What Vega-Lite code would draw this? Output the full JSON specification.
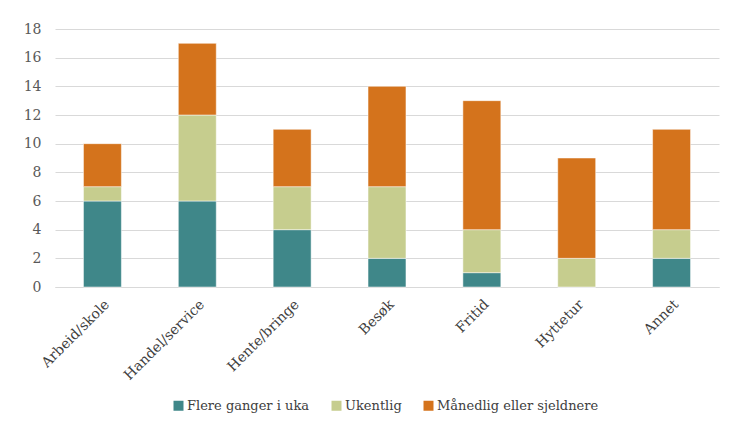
{
  "$schema": "https://vega.github.io/schema/vega-lite/v6.json",
  "width": 664,
  "height": 258,
  "autosize": {"type": "none"},
  "padding": {"left": 55, "top": 29, "right": 37, "bottom": 157},
  "background": "white",
  "data": {"values": [
    {"kat": "Arbeid/skole", "serie": "Flere ganger i uka", "o": 1, "v": 6},
    {"kat": "Arbeid/skole", "serie": "Ukentlig", "o": 2, "v": 1},
    {"kat": "Arbeid/skole", "serie": "Månedlig eller sjeldnere", "o": 3, "v": 3},
    {"kat": "Handel/service", "serie": "Flere ganger i uka", "o": 1, "v": 6},
    {"kat": "Handel/service", "serie": "Ukentlig", "o": 2, "v": 6},
    {"kat": "Handel/service", "serie": "Månedlig eller sjeldnere", "o": 3, "v": 5},
    {"kat": "Hente/bringe", "serie": "Flere ganger i uka", "o": 1, "v": 4},
    {"kat": "Hente/bringe", "serie": "Ukentlig", "o": 2, "v": 3},
    {"kat": "Hente/bringe", "serie": "Månedlig eller sjeldnere", "o": 3, "v": 4},
    {"kat": "Besøk", "serie": "Flere ganger i uka", "o": 1, "v": 2},
    {"kat": "Besøk", "serie": "Ukentlig", "o": 2, "v": 5},
    {"kat": "Besøk", "serie": "Månedlig eller sjeldnere", "o": 3, "v": 7},
    {"kat": "Fritid", "serie": "Flere ganger i uka", "o": 1, "v": 1},
    {"kat": "Fritid", "serie": "Ukentlig", "o": 2, "v": 3},
    {"kat": "Fritid", "serie": "Månedlig eller sjeldnere", "o": 3, "v": 9},
    {"kat": "Hyttetur", "serie": "Flere ganger i uka", "o": 1, "v": 0},
    {"kat": "Hyttetur", "serie": "Ukentlig", "o": 2, "v": 2},
    {"kat": "Hyttetur", "serie": "Månedlig eller sjeldnere", "o": 3, "v": 7},
    {"kat": "Annet", "serie": "Flere ganger i uka", "o": 1, "v": 2},
    {"kat": "Annet", "serie": "Ukentlig", "o": 2, "v": 2},
    {"kat": "Annet", "serie": "Månedlig eller sjeldnere", "o": 3, "v": 7}
  ]},
  "mark": {"type": "bar", "stroke": "white", "strokeWidth": 0.5},
  "encoding": {
    "x": {
      "field": "kat", "type": "nominal", "sort": null,
      "scale": {"paddingInner": 0.6, "paddingOuter": 0.3},
      "axis": {"title": null, "labelAngle": -45, "labelAlign": "right", "labelBaseline": "top", "domain": true, "domainColor": "#d9d9d9", "ticks": false, "labelPadding": 10, "labelFont": "DejaVu Serif", "labelFontSize": 14, "labelColor": "#404040"}
    },
    "y": {
      "field": "v", "type": "quantitative", "stack": "zero",
      "scale": {"domain": [0, 18]},
      "axis": {"title": null, "values": [0,2,4,6,8,10,12,14,16,18], "domain": false, "ticks": false, "labelPadding": 14, "labelFont": "DejaVu Serif", "labelFontSize": 14, "labelColor": "#595959", "gridColor": "#d9d9d9"}
    },
    "color": {
      "field": "serie", "type": "nominal",
      "sort": ["Flere ganger i uka", "Ukentlig", "Månedlig eller sjeldnere"],
      "scale": {"domain": ["Flere ganger i uka", "Ukentlig", "Månedlig eller sjeldnere"], "range": ["#3f8789", "#c6cd8e", "#d4731c"]},
      "legend": {"title": null, "orient": "none", "legendX": 117, "legendY": 370, "direction": "horizontal", "symbolType": "square", "symbolSize": 100, "symbolStrokeWidth": 0, "labelFont": "DejaVu Serif", "labelFontSize": 13, "labelColor": "#404040", "columnPadding": 20, "symbolOffset": 0, "labelOffset": 2, "labelLimit": 300}
    },
    "order": {"field": "o", "type": "quantitative"}
  },
  "config": {
    "font": "DejaVu Serif",
    "view": {"stroke": null}
  }
}
